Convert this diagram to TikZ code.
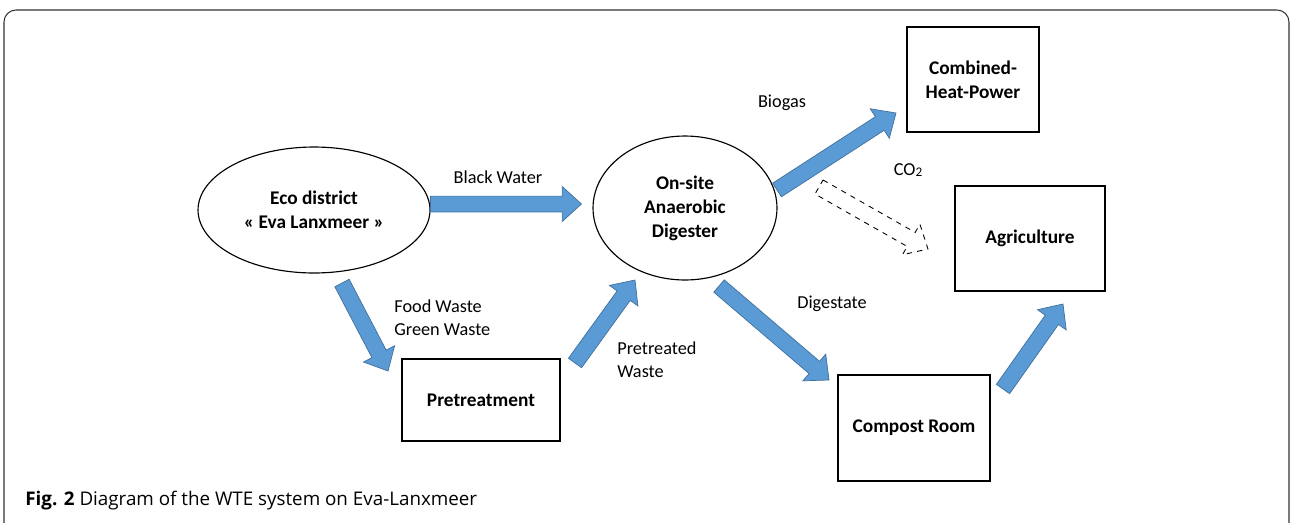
\documentclass[tikz,border=0pt]{standalone}
\usepackage{fontspec}
\setmainfont{Carlito}
\newfontfamily\capfont{Open Sans}
\usepackage{tikz}
\usetikzlibrary{positioning,shapes.geometric,calc}
\usepackage{xcolor}
\definecolor{flowBlue}{HTML}{5B9BD5}
\definecolor{flowEdge}{HTML}{41719C}
\definecolor{frameGray}{HTML}{333333}

% block arrow from #2 to #3 (shaft half width #4)
\newcommand{\flow}[4][flowarrow]{%
  \coordinate (hb) at ($(#3)!11pt!(#2)$);
  \path[#1] ($(#2)!#4!90:(#3)$) -- ($(hb)!#4!90:(#3)$) -- ($(hb)!10pt!90:(#3)$)
    -- (#3) -- ($(hb)!10pt!-90:(#3)$) -- ($(hb)!#4!-90:(#3)$)
    -- ($(#2)!#4!-90:(#3)$) -- cycle;}

\tikzset{
  flowarrow/.style={fill=flowBlue, draw=flowEdge, line width=0.4pt},
  co2arrow/.style={fill=white, draw=black, dashed, line width=0.5pt},
  unit/.style={draw, line width=0.65pt, inner sep=0pt, align=center, font=\fontsize{11}{13.6}\selectfont\bfseries},
  blob/.style={draw, line width=0.65pt, ellipse, inner sep=0pt, align=center, font=\fontsize{11}{13.6}\selectfont\bfseries},
  tag/.style={align=left, inner sep=0pt}
}

\begin{document}
\begin{tikzpicture}[x=0.02cm, y=-0.02cm, every node/.style={font=\fontsize{10.4}{13}\selectfont}]
    \useasboundingbox (0,0) rectangle (1292,522);
    \draw[frameGray, line width=0.6pt, rounded corners=0.24cm] (4,540) -- (4,10) -- (1289,10) -- (1289,540);

    % units and sources
    \node[blob, minimum width=4.64cm, minimum height=2.52cm] (eco) at (314,210) {Eco district\\« Eva Lanxmeer »};
    \node[blob, minimum width=3.68cm, minimum height=2.88cm] (ad) at (685,208) {On-site\\Anaerobic\\Digester};
    \node[unit, minimum width=2.64cm, minimum height=2.10cm] (chp) at (973,79.5) {Combined-\\Heat-Power};
    \node[unit, minimum width=3.00cm, minimum height=2.10cm] (agri) at (1030,238.5) {Agriculture};
    \node[unit, minimum width=3.16cm, minimum height=1.64cm] (pre) at (481,400) {Pretreatment};
    \node[unit, minimum width=3.04cm, minimum height=2.12cm] (comp) at (914,428) {Compost Room};

    % arrow ends
    \coordinate (bw-s) at ($(eco.east)+(0,-6)$);
    \coordinate (bw-e) at ($(ad.west)+(-11,-4)$);
    \coordinate (fw-s) at (342,283);
    \coordinate (fw-e) at (388,371);
    \coordinate (pw-s) at (575,363);
    \coordinate (pw-e) at (635,280);
    \coordinate (bg-s) at (777,190);
    \coordinate (bg-e) at (896,113);
    \coordinate (co-s) at (819,187);
    \coordinate (co-e) at (928,249);
    \coordinate (dg-s) at (719,286);
    \coordinate (dg-e) at (829,380);
    \coordinate (ca-s) at (1003,389);
    \coordinate (ca-e) at (1063,304);

    \flow{bw-s}{bw-e}{4.5pt}
    \flow{fw-s}{fw-e}{4.6pt}
    \flow{pw-s}{pw-e}{4.6pt}
    \flow{bg-s}{bg-e}{4.6pt}
    \flow[co2arrow]{co-s}{co-e}{4.6pt}
    \flow{dg-s}{dg-e}{4.6pt}
    \flow{ca-s}{ca-e}{4.6pt}

    % flow labels
    \node (lbw) at (498,177) {Black Water};
    \node (lbg) at (782,103) {Biogas};
    \node (lco) at (908,170) {CO\raisebox{-0.1ex}{\fontsize{7.5}{8}\selectfont 2}};
    \node[tag, anchor=west] (lfw) at (394,318) {Food Waste\\Green Waste};
    \node[tag, anchor=west] (lpw) at (617,360) {Pretreated\\Waste};
    \node (ldg) at (832,304) {Digestate};

    \node[anchor=west, inner sep=0pt, font=\capfont\fontsize{10.7}{12}\selectfont] (cap) at (25,501) {\textbf{Fig. 2} Diagram of the WTE system on Eva-Lanxmeer};
\end{tikzpicture}
\end{document}
